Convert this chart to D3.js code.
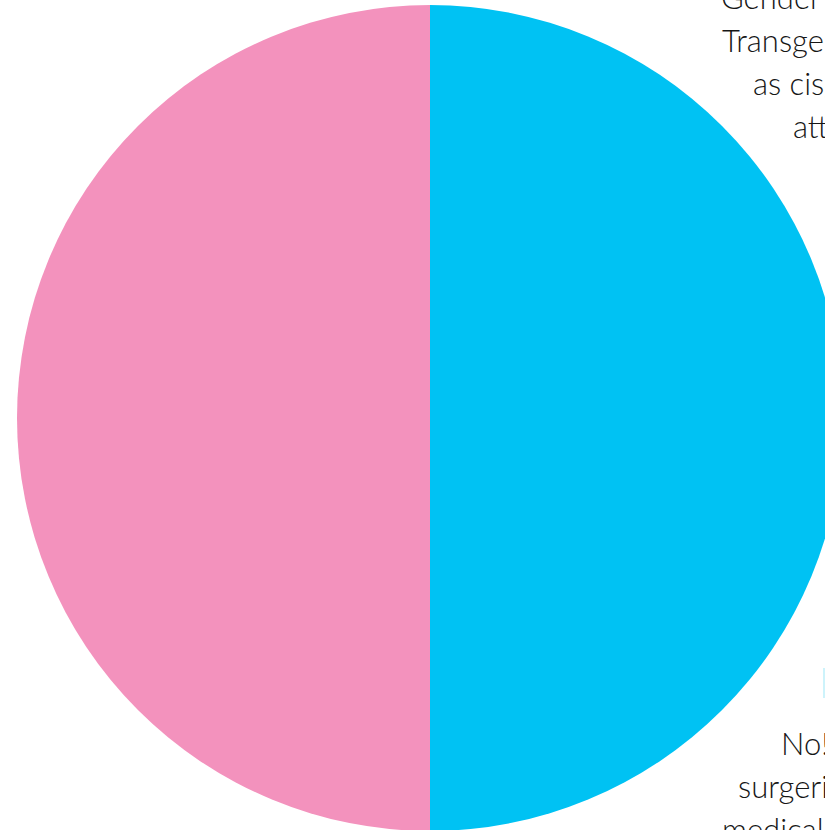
<!DOCTYPE html>
<html>
<head>
<meta charset="utf-8">
<script src="https://cdn.jsdelivr.net/npm/d3@7"></script>
<style>
  body { margin: 0; background: #fff; }
  svg { display: block; }
  .note { font-family: Lato, "Open Sans", sans-serif; font-weight: 300; font-size: 31px; fill: #161616; }
</style>
</head>
<body>
<svg id="chart" width="825" height="830"></svg>
<script>
var categories = ["Boys", "Girls"];
var values = [50, 50];
var colors = ["#00c2f3", "#f392bd"];

// side notes (cut off at the right edge in the original)
var topLines = ["Gender identity is not sexuality.", "Transgender people are as likely", "as cisgender people to be", "attracted to anyone."];
var bottomLines = ["No!", "surgeries or", "medical treatment"];

var svg = d3.select("#chart");
var cx = 430, cy = 418, r = 413;

var pie = d3.pie().sort(null).value(function(d) { return d; });
var arc = d3.arc().innerRadius(0).outerRadius(r);

var g = svg.append("g").attr("transform", "translate(" + cx + "," + cy + ")");

g.selectAll("path")
  .data(pie(values))
  .enter()
  .append("path")
  .attr("d", arc)
  .attr("fill", function(d, i) { return colors[i]; });

// text blocks
var topX = [721, 722, 753, 793];
svg.selectAll("text.top")
  .data(topLines)
  .enter()
  .append("text")
  .attr("class", "note top")
  .attr("x", function(d, i) { return topX[i]; })
  .attr("y", function(d, i) { return 9 + i * 43; })
  .text(function(d) { return d; });

// little legend swatch peeking in
svg.append("rect")
  .attr("x", 823).attr("y", 668)
  .attr("width", 30).attr("height", 30)
  .attr("fill", "#cdf3fb");

var botX = [781, 738, 722];
svg.selectAll("text.bot")
  .data(bottomLines)
  .enter()
  .append("text")
  .attr("class", "note bot")
  .attr("x", function(d, i) { return botX[i]; })
  .attr("y", function(d, i) { return 755 + i * 43; })
  .text(function(d) { return d; });
</script>
</body>
</html>
